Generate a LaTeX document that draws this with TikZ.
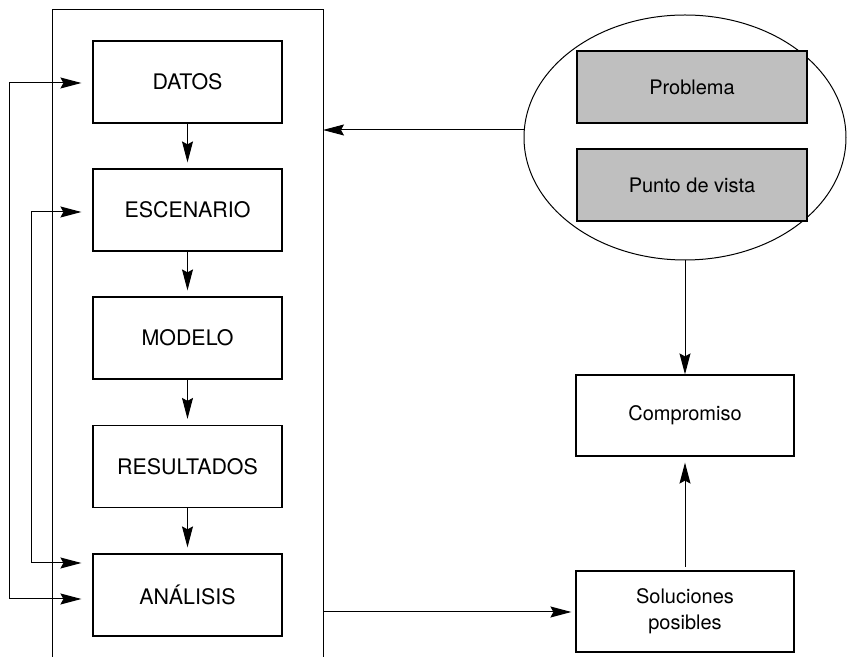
\documentclass[tikz,border=0pt]{standalone}
\usepackage{fontspec}
\setmainfont{TeX Gyre Heros}
\usetikzlibrary{arrows.meta,shapes.geometric}

\begin{document}
\begin{tikzpicture}[x=0.5pt,y=-0.5pt,line width=0.5pt,
  >={Stealth[length=10.5pt,width=5.5pt,inset=1.5pt]},
  caja/.style={draw,line width=0.6pt,minimum width=94.5pt,minimum height=41pt,inner sep=0pt,
    font=\fontsize{10.7}{13}\selectfont},
  cajab/.style={caja,minimum width=109pt,minimum height=40.5pt,align=center,
    font=\fontsize{10}{13}\selectfont},
  gris/.style={cajab,fill=gray!50,minimum width=115pt,minimum height=36pt},
  entra/.style={<-,shorten <=3pt}]
\useasboundingbox (0,0) rectangle (864,657);

% marco abierto abajo
\draw (52,657) -- (52,10) -- (323,10) -- (323,657);
\coordinate (m1) at (323,130);
\coordinate (m2) at (323,612);

\node[caja] at (187.5,82) (datos) {DATOS};
\node[caja] at (187.5,210) (escenario) {ESCENARIO}
  edge[entra] (datos);
\node[caja] at (187.5,338) (modelo) {MODELO}
  edge[entra] (escenario);
\node[caja] at (187.5,466.5) (resultados) {RESULTADOS}
  edge[entra] (modelo);
\node[caja] at (187.5,595) (analisis) {ANÁLISIS}
  edge[entra] (resultados);

\draw[<->] ([shift={(-11,4)}]analisis.west) -- ++(-72,0) |- ([shift={(-11,1)}]datos.west);
\draw[<->] ([shift={(-11,-32)}]analisis.west) -- ++(-50,0) |- ([shift={(-11,2)}]escenario.west);

\node[draw,ellipse,minimum width=161pt,minimum height=122.5pt] at (685,137.5) (enfoque) {};
\node[gris] at (692,87) (problema) {Problema};
\node[gris] at (692,185) (vista) {Punto de vista};

\node[cajab] at (685,611.5) (soluciones) {Soluciones\\posibles};
\node[cajab] at (685,415.5) (compromiso) {Compromiso}
  edge[<-] (enfoque)
  edge[entra,shorten >=1.5pt] (soluciones);

\draw[->] (enfoque.west |- m1) -- (m1);
\draw[->,shorten >=2pt] (m2) -- (soluciones.west |- m2);
\end{tikzpicture}
\end{document}
